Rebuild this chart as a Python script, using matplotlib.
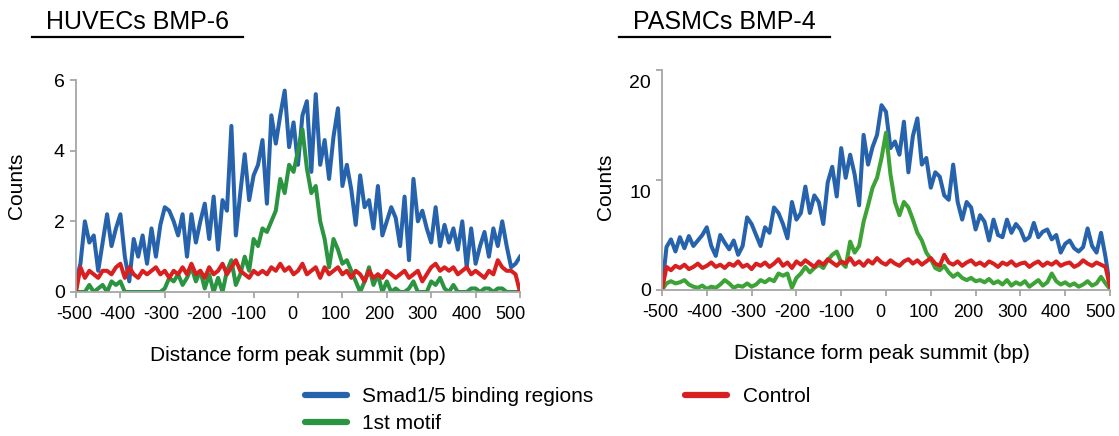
import matplotlib
matplotlib.use('Agg')
import matplotlib.pyplot as plt
import matplotlib.transforms as mtransforms
from matplotlib.lines import Line2D
import numpy as np

plt.rcParams['font.family'] = ['Liberation Sans', 'DejaVu Sans']
plt.rcParams['axes.unicode_minus'] = False

# distance from peak summit (bp), 10 bp bins
distance = np.arange(-500, 501, 10)

# HUVECs BMP-6
huvec_smad = [0.3, 0.8, 2.0, 1.4, 1.6, 0.6, 1.4, 2.2, 1.3, 1.8,
              2.2, 1.0, 0.3, 1.5, 1.0, 1.6, 0.8, 1.8, 1.0, 1.9,
              2.4, 2.3, 2.0, 1.6, 2.2, 1.0, 2.2, 1.4, 2.0, 2.5,
              1.5, 2.7, 1.2, 2.6, 2.3, 4.7, 1.6, 2.8, 3.9, 2.6,
              3.3, 3.6, 4.3, 2.5, 5.0, 4.2, 5.0, 5.7, 4.1, 4.8,
              3.6, 5.0, 5.4, 3.4, 5.6, 3.6, 4.3, 3.2, 4.4, 5.2,
              3.0, 3.6, 2.9, 1.9, 3.3, 2.4, 2.6, 1.8, 3.0, 1.6,
              2.0, 2.4, 2.1, 1.3, 2.7, 0.9, 3.2, 2.0, 2.3, 1.8,
              1.4, 2.4, 1.3, 1.9, 1.4, 1.8, 1.2, 2.0, 0.7, 1.8,
              0.8, 1.3, 1.7, 1.0, 1.8, 1.3, 2.0, 1.3, 0.7, 0.8,
              1.0]
huvec_motif = [0.0, 0.0, 0.0, 0.2, 0.0, 0.1, 0.2, 0.0, 0.3, 0.2,
               0.3, 0.0, 0.0, 0.0, 0.0, 0.0, 0.0, 0.0, 0.0, 0.0,
               0.1, 0.4, 0.3, 0.5, 0.2, 0.4, 0.7, 0.3, 0.6, 0.1,
               0.5, 0.0, 0.4, 0.0, 0.6, 0.9, 0.2, 0.5, 1.0, 0.6,
               1.5, 1.3, 1.8, 1.7, 2.0, 2.3, 3.2, 2.8, 3.6, 3.4,
               4.0, 4.6, 3.5, 2.8, 3.0, 2.0, 1.5, 0.7, 1.5, 1.2,
               0.8, 0.9, 0.6, 0.3, 0.0, 0.3, 0.7, 0.2, 0.5, 0.0,
               0.3, 0.0, 0.1, 0.0, 0.0, 0.1, 0.3, 0.0, 0.0, 0.0,
               0.3, 0.2, 0.4, 0.1, 0.0, 0.2, 0.0, 0.0, 0.0, 0.1,
               0.1, 0.0, 0.1, 0.1, 0.0, 0.1, 0.1, 0.0, 0.0, 0.0,
               0.0]
huvec_control = [0.0, 0.7, 0.4, 0.6, 0.5, 0.4, 0.6, 0.6, 0.5, 0.7,
                 0.8, 0.4, 0.7, 0.5, 0.4, 0.6, 0.5, 0.6, 0.7, 0.5,
                 0.6, 0.4, 0.6, 0.5, 0.7, 0.5, 0.8, 0.5, 0.6, 0.4,
                 0.7, 0.5, 0.6, 0.8, 0.5, 0.7, 0.9, 0.6, 0.5, 0.4,
                 0.6, 0.5, 0.6, 0.5, 0.7, 0.6, 0.8, 0.6, 0.7, 0.5,
                 0.6, 0.8, 0.5, 0.6, 0.7, 0.4, 0.7, 0.5, 0.6, 0.7,
                 0.5, 0.6, 0.4, 0.6, 0.5, 0.3, 0.6, 0.4, 0.5, 0.4,
                 0.6, 0.5, 0.4, 0.5, 0.6, 0.4, 0.5, 0.6, 0.3, 0.5,
                 0.7, 0.8, 0.6, 0.7, 0.6, 0.7, 0.5, 0.6, 0.7, 0.5,
                 0.6, 0.5, 0.4, 0.6, 0.5, 0.9, 0.7, 0.6, 0.6, 0.5,
                 0.0]

# PASMCs BMP-4
pasmc_smad = [0.0, 3.9, 4.6, 3.5, 4.8, 3.8, 4.9, 4.0, 4.5, 5.0,
              5.7, 4.0, 3.1, 5.0, 4.3, 3.7, 4.5, 3.2, 4.0, 6.6,
              6.0, 5.0, 4.0, 5.7, 5.2, 7.5, 7.0, 6.0, 4.7, 8.0,
              6.4, 7.0, 9.4, 7.0, 8.6, 8.0, 6.0, 9.8, 11.2, 8.5,
              12.9, 10.2, 12.3, 10.5, 7.7, 14.1, 11.4, 13.0, 14.1, 16.8,
              16.2, 12.9, 13.5, 12.3, 15.3, 10.7, 14.0, 15.6, 11.4, 12.0,
              9.3, 10.7, 10.3, 8.6, 8.2, 11.4, 8.0, 6.4, 8.0, 7.5,
              5.5, 6.8, 6.2, 4.5, 6.4, 5.0, 4.8, 6.4, 5.2, 6.0,
              5.5, 4.5, 4.8, 6.1, 4.8, 5.3, 5.5, 4.6, 5.0, 3.4,
              4.2, 4.5, 3.8, 3.5, 3.9, 5.6, 4.0, 3.4, 5.2, 3.0,
              0.3]
pasmc_motif = [0.0, 0.6, 0.8, 0.6, 0.7, 0.9, 0.5, 0.3, 0.2, 0.4,
               0.1, 0.3, 0.2, 0.5, 0.9, 0.6, 0.2, 0.4, 0.3, 0.6,
               0.3, 0.5, 0.9, 0.7, 1.0, 0.8, 1.5, 1.3, 1.5, 0.2,
               1.1, 1.5, 2.1, 1.6, 2.0, 2.3, 2.0, 2.7, 3.2, 3.5,
               2.5, 2.1, 4.4, 3.4, 4.0, 6.2, 7.7, 9.3, 10.2, 12.0,
               14.3, 10.5, 8.0, 6.8, 8.0, 7.5, 6.4, 5.2, 4.5, 3.4,
               2.8, 2.0, 1.8, 2.2, 1.6, 1.2, 1.5, 1.1, 0.9, 1.1,
               0.8, 0.9, 0.7, 1.0, 0.6, 0.8, 0.5, 0.9, 0.4, 0.7,
               0.5, 0.8, 0.3, 0.6, 0.9, 0.4, 0.7, 1.5, 0.8, 0.5,
               0.7, 0.4, 0.6, 0.3, 0.5, 0.8, 0.4, 0.6, 1.2, 0.6,
               0.1]
pasmc_control = [0.0, 2.1, 1.8, 2.2, 2.0, 2.3, 1.9, 2.1, 2.4, 2.0,
                 2.2, 2.5, 2.1, 2.3, 2.0, 2.4, 2.2, 2.6, 2.1, 2.3,
                 1.9, 2.4, 2.2, 2.5, 2.1, 2.4, 2.8, 2.2, 2.5, 2.0,
                 2.6, 2.3, 2.7, 2.4, 2.1, 2.6, 2.3, 2.8, 2.5, 2.2,
                 2.6, 2.4, 2.9, 2.3, 2.6, 2.2, 2.7, 2.4, 2.9, 2.5,
                 2.3, 2.7, 2.4, 2.2, 2.6, 2.8, 2.4, 2.7, 2.3, 2.6,
                 2.9, 2.4, 2.2, 3.2, 2.5, 2.3, 2.6, 2.2, 2.5, 2.7,
                 2.3, 2.5, 2.2, 2.6, 2.4, 2.1, 2.5, 2.3, 2.6, 2.2,
                 2.4, 2.5, 2.1, 2.4, 2.6, 2.2, 2.5, 2.3, 2.6, 2.2,
                 2.4, 2.5, 2.1, 2.3, 2.7, 2.4, 2.2, 2.5, 2.3, 2.1,
                 0.3]

labels = ['Smad1/5 binding regions', '1st motif', 'Control']
colors_huvec = ['#2763ad', '#2a9440', '#d7201f']
colors_pasmc = ['#2763ad', '#3ea337', '#d7201f']
titles = ['HUVECs BMP-6', 'PASMCs BMP-4']

fig = plt.figure(figsize=(11.19, 4.36), dpi=100)
W, H = 1119.0, 436.0


def px_axes(x0, x1, y_top, y_bot):
    return fig.add_axes([x0 / W, 1 - y_bot / H, (x1 - x0) / W, (y_bot - y_top) / H])


def style_axes(ax, yticks, ymax):
    for side in ['top', 'right']:
        ax.spines[side].set_visible(False)
    for side in ['left', 'bottom']:
        ax.spines[side].set_color('#a6a6a6')
        ax.spines[side].set_linewidth(1.3)
    ax.set_xlim(-500, 500)
    ax.set_ylim(0, ymax)
    ax.set_xticks(range(-500, 501, 100))
    ax.set_yticks(yticks)
    ax.tick_params(axis='both', direction='out', length=4, width=1.3, color='#a6a6a6')
    ax.tick_params(axis='x', labelsize=13, pad=6)
    ax.tick_params(axis='y', labelsize=14, pad=4)
    ax.set_xlabel('Distance form peak summit (bp)', fontsize=15)
    ax.set_ylabel('Counts', fontsize=15)
    ax.patch.set_visible(False)
    # x tick labels drift slightly left of their ticks in the original
    for i, tick in enumerate(ax.xaxis.get_major_ticks()):
        dx = -(2 + 0.8 * i) / 100.0
        tick.label1.set_transform(tick.label1.get_transform() +
                                  mtransforms.ScaledTranslation(dx, 0, fig.dpi_scale_trans))


ax1 = px_axes(76, 520, 80, 292)
ax2 = px_axes(662, 1110, 70, 290)

for ax, data, cols in [(ax1, [huvec_smad, huvec_motif, huvec_control], colors_huvec),
                       (ax2, [pasmc_smad, pasmc_motif, pasmc_control], colors_pasmc)]:
    for vals, c, lab in zip(data, cols, labels):
        ax.plot(distance, vals, color=c, lw=2.9, label=lab, solid_joinstyle='round')

style_axes(ax1, [0, 2, 4, 6], 6)
style_axes(ax2, [0, 10, 20], 20)

ax1.xaxis.set_label_coords(0.5, -0.255)
ax2.xaxis.set_label_coords(0.49, -0.245)
ax1.yaxis.set_label_coords(-0.113, 0.5)
ax2.yaxis.set_label_coords(-0.105, 0.47)

# in the original the 10 / 20 labels sit a little below their ticks
shift = mtransforms.ScaledTranslation(0, -11 / 100.0, fig.dpi_scale_trans)
for tick in ax2.yaxis.get_major_ticks()[1:]:
    tick.label1.set_transform(tick.label1.get_transform() + shift)

# panel titles with underline
fig.text(46 / W, 1 - 29 / H, titles[0], fontsize=18, va='baseline', ha='left')
fig.text(633 / W, 1 - 29 / H, titles[1], fontsize=18, va='baseline', ha='left')
fig.add_artist(Line2D([32 / W, 243 / W], [1 - 37 / H] * 2, color='black', lw=1.6))
fig.add_artist(Line2D([619 / W, 830 / W], [1 - 37 / H] * 2, color='black', lw=1.6))

handles, labs = ax1.get_legend_handles_labels()
leg = fig.legend(handles, labs, ncol=2, loc='upper left', bbox_to_anchor=(305 / W, 1 - 387 / H),
                 frameon=False, fontsize=15, handlelength=2.0, handletextpad=0.75,
                 columnspacing=4.4, labelspacing=0.4, borderaxespad=0, borderpad=0)
for line in leg.get_lines():
    line.set_linewidth(4.5)
    line.set_solid_capstyle('round')

fig.savefig('out.png', dpi=100)
